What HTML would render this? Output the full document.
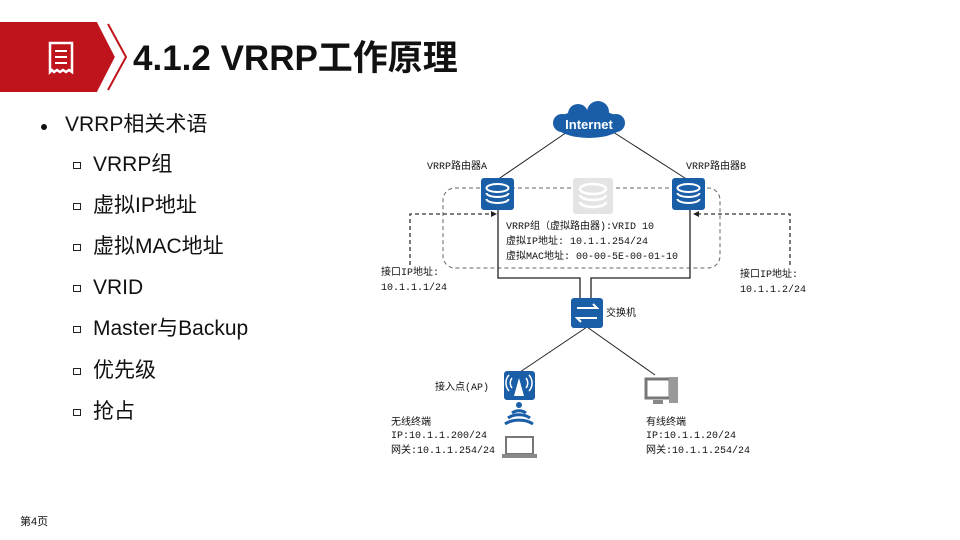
<!DOCTYPE html>
<html><head><meta charset="utf-8"><style>
body{margin:0;width:960px;height:540px;overflow:hidden;background:#fff;font-family:"Liberation Sans","Noto Sans CJK SC",sans-serif;position:relative}
.t{position:absolute;white-space:nowrap;color:#111;line-height:1}
.s{font-size:21px;line-height:24px}
.sq{position:absolute;width:6px;height:5px;border:1.5px solid #222;left:73px}
.m{font-family:"Liberation Mono","Noto Sans CJK SC",monospace;font-size:10px;line-height:12px;color:#111;position:absolute;white-space:nowrap}
</style></head><body>
<svg width="960" height="540" style="position:absolute;left:0;top:0">
<polygon points="0,22 97,22 117,57 97,92 0,92" fill="#c0141c"/>
<polyline points="98,22 116,57 98,92" fill="none" stroke="#fff" stroke-width="2"/>
<polyline points="108,24 126,57 108,90" fill="none" stroke="#c0141c" stroke-width="2"/>
<path d="M50,43 h22 v29 l-3,-2 -3,2 -3,-2 -3,2 -3,-2 -3,2 -2,-2 -2,2z" fill="none" stroke="#fff" stroke-width="2.5"/>
<line x1="55" y1="51" x2="67" y2="51" stroke="#fff" stroke-width="2"/>
<line x1="55" y1="57" x2="67" y2="57" stroke="#fff" stroke-width="2"/>
<line x1="55" y1="63" x2="67" y2="63" stroke="#fff" stroke-width="2"/>
<circle cx="44" cy="127" r="3" fill="#111"/>
<line x1="570" y1="130" x2="497" y2="180" stroke="#222"/>
<line x1="610" y1="130" x2="688" y2="180" stroke="#222"/>
<rect x="443" y="188" width="277" height="80" rx="12" fill="none" stroke="#666" stroke-dasharray="4,3"/>
<polyline points="498,210 498,278 580,278 580,298" fill="none" stroke="#222" stroke-width="1.3"/>
<polyline points="690,210 690,278 591,278 591,298" fill="none" stroke="#222" stroke-width="1.3"/>
<polyline points="410,265 410,214 493,214" fill="none" stroke="#333" stroke-width="1.3" stroke-dasharray="4,3"/>
<polygon points="497,214 491,211 491,217" fill="#222"/>
<polyline points="790,265 790,214 697,214" fill="none" stroke="#333" stroke-width="1.3" stroke-dasharray="4,3"/>
<polygon points="693,214 699,211 699,217" fill="#222"/>
<line x1="587" y1="327" x2="520" y2="372" stroke="#222"/>
<line x1="587" y1="327" x2="655" y2="375" stroke="#222"/>
<g fill="#1a5ea8"><ellipse cx="589" cy="124" rx="34" ry="14"/><circle cx="578" cy="114" r="10"/><circle cx="598" cy="112" r="11"/><circle cx="562" cy="123" r="9"/><circle cx="616" cy="123" r="9"/></g>
<text x="589" y="129" font-family="Liberation Sans" font-size="13" font-weight="bold" fill="#fff" text-anchor="middle">Internet</text>
<g id="r"><rect x="481" y="178" width="33" height="32" rx="3" fill="#1a5ea8"/><ellipse cx="497.5" cy="188" rx="11" ry="4" fill="none" stroke="#fff" stroke-width="2"/><path d="M486.5,193 a11,4 0 0 0 22,0 M486.5,199 a11,4 0 0 0 22,0" fill="none" stroke="#fff" stroke-width="2"/></g>
<use href="#r" x="191"/>
<rect x="573" y="178" width="40" height="36" rx="3" fill="#e4e4e4"/>
<ellipse cx="593" cy="189" rx="13" ry="5" fill="none" stroke="#fff" stroke-width="2.5"/>
<path d="M580,195 a13,5 0 0 0 26,0 M580,202 a13,5 0 0 0 26,0" fill="none" stroke="#fff" stroke-width="2.5"/>
<rect x="571" y="298" width="32" height="30" rx="3" fill="#1a5ea8"/>
<path d="M577,308 h20 l-4,-4 M597,318 h-20 l4,4" fill="none" stroke="#fff" stroke-width="2"/>
<rect x="504" y="371" width="31" height="29" rx="3" fill="#1a5ea8"/>
<path d="M519,378 l-5,18 h10z" fill="#fff"/>
<path d="M512,378 a8,8 0 0 0 0,10 M526,378 a8,8 0 0 1 0,10 M509,375 a12,12 0 0 0 0,16 M529,375 a12,12 0 0 1 0,16" fill="none" stroke="#fff" stroke-width="1.5"/>
<circle cx="519" cy="405" r="3" fill="#1a5ea8"/>
<path d="M512,413 a10,8 0 0 1 14,0 M508,418 a15,10 0 0 1 22,0 M505,424 a19,12 0 0 1 28,0" fill="none" stroke="#1a5ea8" stroke-width="3"/>
<rect x="506" y="437" width="27" height="17" fill="none" stroke="#777" stroke-width="2"/>
<rect x="502" y="454" width="35" height="4" fill="#888"/>
<rect x="646" y="379" width="24" height="19" fill="none" stroke="#777" stroke-width="3"/>
<rect x="653" y="400" width="10" height="4" fill="#888"/>
<rect x="669" y="377" width="9" height="26" fill="#999"/>
</svg>
<div class="t" style="left:133px;top:41px;font-size:35px;font-weight:bold">4.1.2 VRRP工作原理</div>
<div class="t" style="left:65px;top:113px;font-size:21px;line-height:24px">VRRP相关术语</div>
<div class="sq" style="top:162px"></div><div class="t s" style="left:93px;top:153px">VRRP组</div>
<div class="sq" style="top:203px"></div><div class="t s" style="left:93px;top:194px">虚拟IP地址</div>
<div class="sq" style="top:244px"></div><div class="t s" style="left:93px;top:235px">虚拟MAC地址</div>
<div class="sq" style="top:285px"></div><div class="t s" style="left:93px;top:276px">VRID</div>
<div class="sq" style="top:326px"></div><div class="t s" style="left:93px;top:317px">Master与Backup</div>
<div class="sq" style="top:368px"></div><div class="t s" style="left:93px;top:359px">优先级</div>
<div class="sq" style="top:409px"></div><div class="t s" style="left:93px;top:400px">抢占</div>
<div class="t" style="left:20px;top:517px;font-size:11px">第4页</div>
<div class="m" style="left:427px;top:162px">VRRP路由器A</div>
<div class="m" style="left:686px;top:162px">VRRP路由器B</div>
<div class="m" style="left:506px;top:222px">VRRP组（虚拟路由器):VRID 10</div>
<div class="m" style="left:506px;top:237px">虚拟IP地址: 10.1.1.254/24</div>
<div class="m" style="left:506px;top:252px">虚拟MAC地址: 00-00-5E-00-01-10</div>
<div class="m" style="left:381px;top:268px">接口IP地址:</div>
<div class="m" style="left:381px;top:283px">10.1.1.1/24</div>
<div class="m" style="left:740px;top:270px">接口IP地址:</div>
<div class="m" style="left:740px;top:285px">10.1.1.2/24</div>
<div class="m" style="left:606px;top:309px">交换机</div>
<div class="m" style="left:435px;top:383px">接入点(AP)</div>
<div class="m" style="left:391px;top:418px">无线终端</div>
<div class="m" style="left:391px;top:431px">IP:10.1.1.200/24</div>
<div class="m" style="left:391px;top:446px">网关:10.1.1.254/24</div>
<div class="m" style="left:646px;top:418px">有线终端</div>
<div class="m" style="left:646px;top:431px">IP:10.1.1.20/24</div>
<div class="m" style="left:646px;top:446px">网关:10.1.1.254/24</div>
</body></html>
